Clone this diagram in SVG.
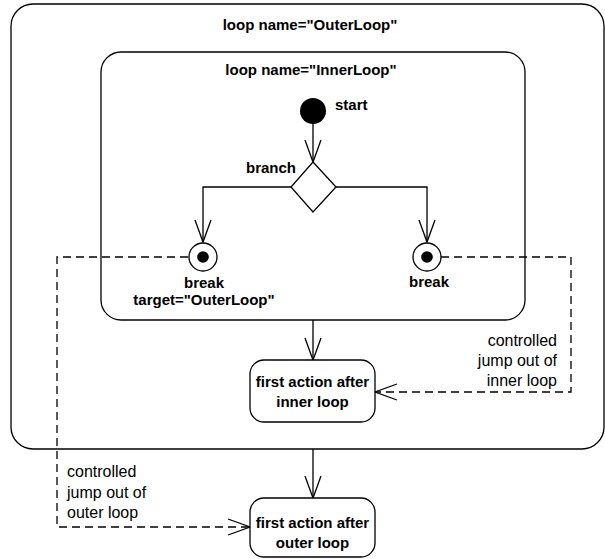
<svg xmlns="http://www.w3.org/2000/svg" width="605" height="559" viewBox="0 0 605 559">
<style>
.box{fill:none;stroke:#000;stroke-width:1.3}
.act{fill:#fff;stroke:#000;stroke-width:1.3}
.edge{fill:none;stroke:#000;stroke-width:1.3}
.dash{fill:none;stroke:#000;stroke-width:1.3;stroke-dasharray:8 5}
.b{font-family:"Liberation Sans",Arial,sans-serif;font-weight:bold;font-size:15px;fill:#000}
.n{font-family:"Liberation Sans",Arial,sans-serif;font-size:16px;fill:#000}
</style>
<defs>
<marker id="open" markerUnits="userSpaceOnUse" markerWidth="26" markerHeight="20" viewBox="0 0 26 20" refX="23" refY="10" orient="auto">
<path d="M1,2 L23,10 L1,18" fill="none" stroke="#000" stroke-width="1.3" stroke-dasharray="none"/>
</marker>
</defs>
<rect width="605" height="559" fill="#fff"/>
<g id="outer-loop">
<rect class="box" x="11" y="4" width="593" height="445" rx="22"/>
<text class="b" x="310" y="30" text-anchor="middle">loop name="OuterLoop"</text>
</g>
<g id="inner-loop">
<rect class="box" x="101" y="52" width="424" height="268" rx="20"/>
<text class="b" x="311" y="75" text-anchor="middle">loop name="InnerLoop"</text>
</g>
<g id="connectors">
<line class="edge" x1="313" y1="124" x2="313" y2="162" marker-end="url(#open)"/>
<polyline class="edge" points="291,187 203,187 203,242" marker-end="url(#open)"/>
<polyline class="edge" points="336,187 427,187 427,242" marker-end="url(#open)"/>
<line class="edge" x1="313" y1="320" x2="313" y2="360" marker-end="url(#open)"/>
<line class="edge" x1="313" y1="449" x2="313" y2="498" marker-end="url(#open)"/>
<polyline class="dash" points="188,257 57,257 57,527 250,527" marker-end="url(#open)"/>
<polyline class="dash" points="441,257 571,257 571,392 375,392" marker-end="url(#open)"/>
</g>
<g id="start">
<circle cx="313" cy="111" r="13" fill="#000"/>
<text class="b" x="335" y="110">start</text>
</g>
<g id="branch">
<polygon class="act" points="313,162 336,187 313,212 291,187"/>
<text class="b" x="296" y="173" text-anchor="end">branch</text>
</g>
<g id="break-outer">
<circle class="act" cx="203" cy="257" r="14"/>
<circle cx="203" cy="257" r="5.8" fill="#000"/>
<text class="b" x="204" y="288" text-anchor="middle">break</text>
<text class="b" x="204" y="305" text-anchor="middle">target="OuterLoop"</text>
</g>
<g id="break-inner">
<circle class="act" cx="427" cy="257" r="14"/>
<circle cx="427" cy="257" r="5.8" fill="#000"/>
<text class="b" x="429" y="287" text-anchor="middle">break</text>
</g>
<g id="after-inner">
<rect class="act" x="250" y="360" width="125" height="62" rx="14"/>
<text class="b" x="312.5" y="387" text-anchor="middle">first action after</text>
<text class="b" x="312.5" y="407" text-anchor="middle">inner loop</text>
</g>
<g id="after-outer">
<rect class="act" x="250" y="498" width="125" height="59" rx="14"/>
<text class="b" x="312.5" y="528" text-anchor="middle">first action after</text>
<text class="b" x="312.5" y="548" text-anchor="middle">outer loop</text>
</g>
<g id="label-inner-jump">
<text class="n" x="557" y="346" text-anchor="end">controlled</text>
<text class="n" x="557" y="366" text-anchor="end">jump out of</text>
<text class="n" x="557" y="386" text-anchor="end">inner loop</text>
</g>
<g id="label-outer-jump">
<text class="n" x="67" y="477">controlled</text>
<text class="n" x="67" y="498">jump out of</text>
<text class="n" x="67" y="518">outer loop</text>
</g>
</svg>
